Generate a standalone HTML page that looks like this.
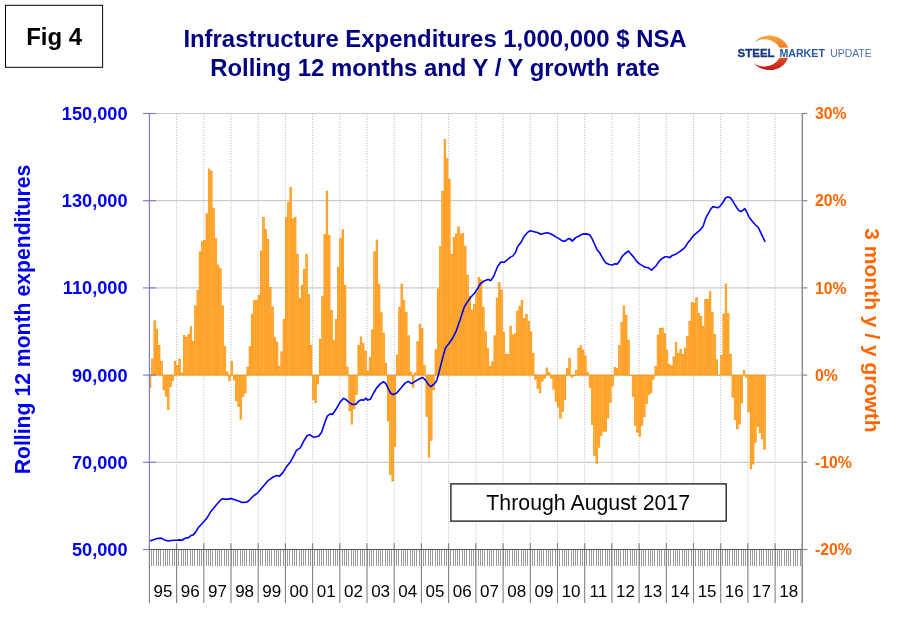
<!DOCTYPE html><html><head><meta charset="utf-8"><title>Fig 4 Infrastructure Expenditures</title>
<style>html,body{margin:0;padding:0;background:#fff}body{width:897px;height:622px;overflow:hidden;font-family:"Liberation Sans",sans-serif}svg{display:block}text{font-family:"Liberation Sans",sans-serif}</style></head><body>
<svg width="897" height="622" viewBox="0 0 897 622">
<defs><linearGradient id="lg" x1="0" y1="0" x2="0" y2="1"><stop offset="0" stop-color="#f9a63e"/><stop offset="0.45" stop-color="#f37021"/><stop offset="1" stop-color="#c4161c"/></linearGradient>
<linearGradient id="bg" x1="0" y1="0" x2="1" y2="0"><stop offset="0" stop-color="#f59000"/><stop offset="0.5" stop-color="#ffb84d"/><stop offset="1" stop-color="#f59000"/></linearGradient></defs>
<rect width="897" height="622" fill="#fff"/>
<line x1="149.4" y1="113.5" x2="802.3" y2="113.5" stroke="#cccccc" stroke-width="1.2"/>
<line x1="149.4" y1="200.7" x2="802.3" y2="200.7" stroke="#cccccc" stroke-width="1.2"/>
<line x1="149.4" y1="287.9" x2="802.3" y2="287.9" stroke="#cccccc" stroke-width="1.2"/>
<line x1="149.4" y1="375.1" x2="802.3" y2="375.1" stroke="#cccccc" stroke-width="1.2"/>
<line x1="149.4" y1="462.3" x2="802.3" y2="462.3" stroke="#cccccc" stroke-width="1.2"/>
<line x1="176.6" y1="113.5" x2="176.6" y2="549.5" stroke="#bababa" stroke-width="1" stroke-dasharray="1.1 1.58"/>
<line x1="203.8" y1="113.5" x2="203.8" y2="549.5" stroke="#bababa" stroke-width="1" stroke-dasharray="1.1 1.58"/>
<line x1="231.0" y1="113.5" x2="231.0" y2="549.5" stroke="#bababa" stroke-width="1" stroke-dasharray="1.1 1.58"/>
<line x1="258.2" y1="113.5" x2="258.2" y2="549.5" stroke="#bababa" stroke-width="1" stroke-dasharray="1.1 1.58"/>
<line x1="285.4" y1="113.5" x2="285.4" y2="549.5" stroke="#bababa" stroke-width="1" stroke-dasharray="1.1 1.58"/>
<line x1="312.6" y1="113.5" x2="312.6" y2="549.5" stroke="#bababa" stroke-width="1" stroke-dasharray="1.1 1.58"/>
<line x1="339.8" y1="113.5" x2="339.8" y2="549.5" stroke="#bababa" stroke-width="1" stroke-dasharray="1.1 1.58"/>
<line x1="367.0" y1="113.5" x2="367.0" y2="549.5" stroke="#bababa" stroke-width="1" stroke-dasharray="1.1 1.58"/>
<line x1="394.2" y1="113.5" x2="394.2" y2="549.5" stroke="#bababa" stroke-width="1" stroke-dasharray="1.1 1.58"/>
<line x1="421.4" y1="113.5" x2="421.4" y2="549.5" stroke="#bababa" stroke-width="1" stroke-dasharray="1.1 1.58"/>
<line x1="448.6" y1="113.5" x2="448.6" y2="549.5" stroke="#bababa" stroke-width="1" stroke-dasharray="1.1 1.58"/>
<line x1="475.9" y1="113.5" x2="475.9" y2="549.5" stroke="#bababa" stroke-width="1" stroke-dasharray="1.1 1.58"/>
<line x1="503.1" y1="113.5" x2="503.1" y2="549.5" stroke="#bababa" stroke-width="1" stroke-dasharray="1.1 1.58"/>
<line x1="530.3" y1="113.5" x2="530.3" y2="549.5" stroke="#bababa" stroke-width="1" stroke-dasharray="1.1 1.58"/>
<line x1="557.5" y1="113.5" x2="557.5" y2="549.5" stroke="#bababa" stroke-width="1" stroke-dasharray="1.1 1.58"/>
<line x1="584.7" y1="113.5" x2="584.7" y2="549.5" stroke="#bababa" stroke-width="1" stroke-dasharray="1.1 1.58"/>
<line x1="611.9" y1="113.5" x2="611.9" y2="549.5" stroke="#bababa" stroke-width="1" stroke-dasharray="1.1 1.58"/>
<line x1="639.1" y1="113.5" x2="639.1" y2="549.5" stroke="#bababa" stroke-width="1" stroke-dasharray="1.1 1.58"/>
<line x1="666.3" y1="113.5" x2="666.3" y2="549.5" stroke="#bababa" stroke-width="1" stroke-dasharray="1.1 1.58"/>
<line x1="693.5" y1="113.5" x2="693.5" y2="549.5" stroke="#bababa" stroke-width="1" stroke-dasharray="1.1 1.58"/>
<line x1="720.7" y1="113.5" x2="720.7" y2="549.5" stroke="#bababa" stroke-width="1" stroke-dasharray="1.1 1.58"/>
<line x1="747.9" y1="113.5" x2="747.9" y2="549.5" stroke="#bababa" stroke-width="1" stroke-dasharray="1.1 1.58"/>
<line x1="775.1" y1="113.5" x2="775.1" y2="549.5" stroke="#bababa" stroke-width="1" stroke-dasharray="1.1 1.58"/>
<g id="bars" fill="#ffb13d" stroke="#ff8c00" stroke-width="0.65">
<rect x="149.32" y="375.1" width="1.62" height="12.6"/>
<rect x="151.59" y="359.0" width="1.62" height="16.1"/>
<rect x="153.86" y="320.8" width="1.62" height="54.3"/>
<rect x="156.13" y="329.0" width="1.62" height="46.1"/>
<rect x="158.39" y="345.4" width="1.62" height="29.7"/>
<rect x="160.66" y="361.3" width="1.62" height="13.8"/>
<rect x="162.93" y="375.1" width="1.62" height="14.9"/>
<rect x="165.19" y="375.1" width="1.62" height="21.1"/>
<rect x="167.46" y="375.1" width="1.62" height="34.6"/>
<rect x="169.73" y="375.1" width="1.62" height="11.6"/>
<rect x="172.00" y="375.1" width="1.62" height="5.6"/>
<rect x="174.26" y="361.3" width="1.62" height="13.8"/>
<rect x="176.53" y="365.5" width="1.62" height="9.6"/>
<rect x="178.80" y="359.2" width="1.62" height="15.9"/>
<rect x="181.06" y="372.9" width="1.62" height="2.2"/>
<rect x="183.33" y="335.6" width="1.62" height="39.5"/>
<rect x="185.60" y="337.1" width="1.62" height="38.0"/>
<rect x="187.86" y="334.6" width="1.62" height="40.5"/>
<rect x="190.13" y="326.8" width="1.62" height="48.3"/>
<rect x="192.40" y="341.3" width="1.62" height="33.8"/>
<rect x="194.67" y="305.9" width="1.62" height="69.2"/>
<rect x="196.93" y="290.6" width="1.62" height="84.5"/>
<rect x="199.20" y="251.9" width="1.62" height="123.2"/>
<rect x="201.47" y="241.7" width="1.62" height="133.4"/>
<rect x="203.73" y="240.3" width="1.62" height="134.8"/>
<rect x="206.00" y="213.8" width="1.62" height="161.3"/>
<rect x="208.27" y="169.0" width="1.62" height="206.1"/>
<rect x="210.53" y="171.0" width="1.62" height="204.1"/>
<rect x="212.80" y="208.2" width="1.62" height="166.9"/>
<rect x="215.07" y="238.4" width="1.62" height="136.7"/>
<rect x="217.34" y="265.0" width="1.62" height="110.1"/>
<rect x="219.60" y="268.8" width="1.62" height="106.3"/>
<rect x="221.87" y="305.9" width="1.62" height="69.2"/>
<rect x="224.14" y="346.3" width="1.62" height="28.8"/>
<rect x="226.40" y="372.0" width="1.62" height="3.1"/>
<rect x="228.67" y="375.1" width="1.62" height="5.6"/>
<rect x="230.94" y="361.5" width="1.62" height="13.6"/>
<rect x="233.20" y="375.1" width="1.62" height="4.9"/>
<rect x="235.47" y="375.1" width="1.62" height="25.6"/>
<rect x="237.74" y="375.1" width="1.62" height="31.4"/>
<rect x="240.01" y="375.1" width="1.62" height="44.1"/>
<rect x="242.27" y="375.1" width="1.62" height="21.3"/>
<rect x="244.54" y="375.1" width="1.62" height="18.0"/>
<rect x="246.81" y="367.3" width="1.62" height="7.8"/>
<rect x="249.07" y="346.7" width="1.62" height="28.4"/>
<rect x="251.34" y="314.1" width="1.62" height="61.0"/>
<rect x="253.61" y="300.7" width="1.62" height="74.4"/>
<rect x="255.87" y="300.2" width="1.62" height="74.9"/>
<rect x="258.14" y="295.4" width="1.62" height="79.7"/>
<rect x="260.41" y="251.0" width="1.62" height="124.1"/>
<rect x="262.68" y="217.6" width="1.62" height="157.5"/>
<rect x="264.94" y="229.2" width="1.62" height="145.9"/>
<rect x="267.21" y="239.4" width="1.62" height="135.7"/>
<rect x="269.48" y="287.5" width="1.62" height="87.6"/>
<rect x="271.74" y="307.0" width="1.62" height="68.1"/>
<rect x="274.01" y="337.2" width="1.62" height="37.9"/>
<rect x="276.28" y="342.1" width="1.62" height="33.0"/>
<rect x="278.54" y="366.2" width="1.62" height="8.9"/>
<rect x="280.81" y="351.7" width="1.62" height="23.4"/>
<rect x="283.08" y="319.5" width="1.62" height="55.6"/>
<rect x="285.35" y="217.6" width="1.62" height="157.5"/>
<rect x="287.61" y="202.2" width="1.62" height="172.9"/>
<rect x="289.88" y="187.4" width="1.62" height="187.7"/>
<rect x="292.15" y="218.8" width="1.62" height="156.3"/>
<rect x="294.41" y="217.2" width="1.62" height="157.9"/>
<rect x="296.68" y="254.3" width="1.62" height="120.8"/>
<rect x="298.95" y="298.7" width="1.62" height="76.4"/>
<rect x="301.21" y="285.2" width="1.62" height="89.9"/>
<rect x="303.48" y="269.2" width="1.62" height="105.9"/>
<rect x="305.75" y="254.3" width="1.62" height="120.8"/>
<rect x="308.02" y="294.4" width="1.62" height="80.7"/>
<rect x="310.28" y="345.3" width="1.62" height="29.8"/>
<rect x="312.55" y="375.1" width="1.62" height="24.3"/>
<rect x="314.82" y="375.1" width="1.62" height="27.6"/>
<rect x="317.08" y="375.1" width="1.62" height="8.9"/>
<rect x="319.35" y="339.2" width="1.62" height="35.9"/>
<rect x="321.62" y="296.7" width="1.62" height="78.4"/>
<rect x="323.89" y="234.6" width="1.62" height="140.5"/>
<rect x="326.15" y="191.2" width="1.62" height="183.9"/>
<rect x="328.42" y="235.6" width="1.62" height="139.5"/>
<rect x="330.69" y="310.6" width="1.62" height="64.5"/>
<rect x="332.95" y="340.7" width="1.62" height="34.4"/>
<rect x="335.22" y="319.5" width="1.62" height="55.6"/>
<rect x="337.49" y="267.3" width="1.62" height="107.8"/>
<rect x="339.75" y="238.8" width="1.62" height="136.3"/>
<rect x="342.02" y="229.8" width="1.62" height="145.3"/>
<rect x="344.29" y="285.6" width="1.62" height="89.5"/>
<rect x="346.56" y="367.1" width="1.62" height="8.0"/>
<rect x="348.82" y="375.1" width="1.62" height="35.9"/>
<rect x="351.09" y="375.1" width="1.62" height="49.0"/>
<rect x="353.36" y="375.1" width="1.62" height="33.6"/>
<rect x="355.62" y="375.1" width="1.62" height="19.5"/>
<rect x="357.89" y="345.3" width="1.62" height="29.8"/>
<rect x="360.16" y="336.9" width="1.62" height="38.2"/>
<rect x="362.42" y="343.6" width="1.62" height="31.5"/>
<rect x="364.69" y="351.1" width="1.62" height="24.0"/>
<rect x="366.96" y="371.0" width="1.62" height="4.1"/>
<rect x="369.23" y="357.5" width="1.62" height="17.6"/>
<rect x="371.49" y="329.9" width="1.62" height="45.2"/>
<rect x="373.76" y="251.9" width="1.62" height="123.2"/>
<rect x="376.03" y="240.0" width="1.62" height="135.1"/>
<rect x="378.29" y="284.2" width="1.62" height="90.9"/>
<rect x="380.56" y="312.8" width="1.62" height="62.3"/>
<rect x="382.83" y="333.0" width="1.62" height="42.1"/>
<rect x="385.09" y="363.3" width="1.62" height="11.8"/>
<rect x="387.36" y="375.1" width="1.62" height="45.9"/>
<rect x="389.63" y="375.1" width="1.62" height="99.5"/>
<rect x="391.90" y="375.1" width="1.62" height="105.9"/>
<rect x="394.16" y="375.1" width="1.62" height="71.2"/>
<rect x="396.43" y="355.0" width="1.62" height="20.1"/>
<rect x="398.70" y="307.3" width="1.62" height="67.8"/>
<rect x="400.96" y="284.2" width="1.62" height="90.9"/>
<rect x="403.23" y="300.6" width="1.62" height="74.5"/>
<rect x="405.50" y="312.2" width="1.62" height="62.9"/>
<rect x="407.76" y="335.7" width="1.62" height="39.4"/>
<rect x="410.03" y="371.9" width="1.62" height="3.2"/>
<rect x="412.30" y="375.1" width="1.62" height="12.3"/>
<rect x="414.57" y="372.9" width="1.62" height="2.2"/>
<rect x="416.83" y="341.7" width="1.62" height="33.4"/>
<rect x="419.10" y="324.1" width="1.62" height="51.0"/>
<rect x="421.37" y="328.2" width="1.62" height="46.9"/>
<rect x="423.63" y="365.6" width="1.62" height="9.5"/>
<rect x="425.90" y="375.1" width="1.62" height="41.3"/>
<rect x="428.17" y="375.1" width="1.62" height="82.1"/>
<rect x="430.43" y="375.1" width="1.62" height="65.4"/>
<rect x="432.70" y="375.1" width="1.62" height="14.7"/>
<rect x="434.97" y="349.8" width="1.62" height="25.3"/>
<rect x="437.24" y="289.0" width="1.62" height="86.1"/>
<rect x="439.50" y="246.5" width="1.62" height="128.6"/>
<rect x="441.77" y="191.2" width="1.62" height="183.9"/>
<rect x="444.04" y="139.5" width="1.62" height="235.6"/>
<rect x="446.30" y="158.8" width="1.62" height="216.3"/>
<rect x="448.57" y="179.1" width="1.62" height="196.0"/>
<rect x="450.84" y="254.4" width="1.62" height="120.7"/>
<rect x="453.10" y="237.5" width="1.62" height="137.6"/>
<rect x="455.37" y="234.0" width="1.62" height="141.1"/>
<rect x="457.64" y="226.9" width="1.62" height="148.2"/>
<rect x="459.91" y="234.0" width="1.62" height="141.1"/>
<rect x="462.17" y="233.6" width="1.62" height="141.5"/>
<rect x="464.44" y="246.2" width="1.62" height="128.9"/>
<rect x="466.71" y="275.1" width="1.62" height="100.0"/>
<rect x="468.97" y="296.6" width="1.62" height="78.5"/>
<rect x="471.24" y="310.1" width="1.62" height="65.0"/>
<rect x="473.51" y="304.4" width="1.62" height="70.7"/>
<rect x="475.78" y="292.4" width="1.62" height="82.7"/>
<rect x="478.04" y="277.5" width="1.62" height="97.6"/>
<rect x="480.31" y="279.8" width="1.62" height="95.3"/>
<rect x="482.58" y="307.5" width="1.62" height="67.6"/>
<rect x="484.84" y="331.8" width="1.62" height="43.3"/>
<rect x="487.11" y="348.8" width="1.62" height="26.3"/>
<rect x="489.38" y="366.5" width="1.62" height="8.6"/>
<rect x="491.64" y="361.9" width="1.62" height="13.2"/>
<rect x="493.91" y="335.7" width="1.62" height="39.4"/>
<rect x="496.18" y="298.1" width="1.62" height="77.0"/>
<rect x="498.45" y="282.7" width="1.62" height="92.4"/>
<rect x="500.71" y="290.1" width="1.62" height="85.0"/>
<rect x="502.98" y="332.4" width="1.62" height="42.7"/>
<rect x="505.25" y="354.2" width="1.62" height="20.9"/>
<rect x="507.51" y="354.6" width="1.62" height="20.5"/>
<rect x="509.78" y="326.2" width="1.62" height="48.9"/>
<rect x="512.05" y="334.9" width="1.62" height="40.2"/>
<rect x="514.31" y="333.8" width="1.62" height="41.3"/>
<rect x="516.58" y="311.2" width="1.62" height="63.9"/>
<rect x="518.85" y="306.5" width="1.62" height="68.6"/>
<rect x="521.12" y="300.4" width="1.62" height="74.7"/>
<rect x="523.38" y="318.5" width="1.62" height="56.6"/>
<rect x="525.65" y="314.5" width="1.62" height="60.6"/>
<rect x="527.92" y="321.4" width="1.62" height="53.7"/>
<rect x="530.18" y="331.8" width="1.62" height="43.3"/>
<rect x="532.45" y="353.6" width="1.62" height="21.5"/>
<rect x="534.72" y="375.1" width="1.62" height="4.1"/>
<rect x="536.98" y="375.1" width="1.62" height="13.3"/>
<rect x="539.25" y="375.1" width="1.62" height="17.6"/>
<rect x="541.52" y="375.1" width="1.62" height="6.0"/>
<rect x="543.79" y="375.1" width="1.62" height="3.1"/>
<rect x="546.05" y="367.9" width="1.62" height="7.2"/>
<rect x="548.32" y="372.8" width="1.62" height="2.3"/>
<rect x="550.59" y="375.1" width="1.62" height="3.1"/>
<rect x="552.85" y="375.1" width="1.62" height="14.3"/>
<rect x="555.12" y="375.1" width="1.62" height="26.2"/>
<rect x="557.39" y="375.1" width="1.62" height="32.0"/>
<rect x="559.65" y="375.1" width="1.62" height="43.2"/>
<rect x="561.92" y="375.1" width="1.62" height="36.4"/>
<rect x="564.19" y="375.1" width="1.62" height="24.3"/>
<rect x="566.46" y="368.4" width="1.62" height="6.7"/>
<rect x="568.72" y="358.4" width="1.62" height="16.7"/>
<rect x="570.99" y="375.1" width="1.62" height="2.1"/>
<rect x="573.26" y="375.1" width="1.62" height="0.8"/>
<rect x="575.52" y="370.4" width="1.62" height="4.7"/>
<rect x="577.79" y="348.2" width="1.62" height="26.9"/>
<rect x="580.06" y="345.7" width="1.62" height="29.4"/>
<rect x="582.32" y="350.1" width="1.62" height="25.0"/>
<rect x="584.59" y="355.9" width="1.62" height="19.2"/>
<rect x="586.86" y="372.3" width="1.62" height="2.8"/>
<rect x="589.13" y="375.1" width="1.62" height="12.3"/>
<rect x="591.39" y="375.1" width="1.62" height="49.4"/>
<rect x="593.66" y="375.1" width="1.62" height="80.2"/>
<rect x="595.93" y="375.1" width="1.62" height="88.5"/>
<rect x="598.19" y="375.1" width="1.62" height="72.1"/>
<rect x="600.46" y="375.1" width="1.62" height="60.4"/>
<rect x="602.73" y="375.1" width="1.62" height="56.1"/>
<rect x="604.99" y="375.1" width="1.62" height="56.1"/>
<rect x="607.26" y="375.1" width="1.62" height="43.0"/>
<rect x="609.53" y="375.1" width="1.62" height="27.2"/>
<rect x="611.80" y="375.1" width="1.62" height="10.8"/>
<rect x="614.06" y="367.5" width="1.62" height="7.6"/>
<rect x="616.33" y="368.4" width="1.62" height="6.7"/>
<rect x="618.60" y="345.7" width="1.62" height="29.4"/>
<rect x="620.86" y="322.6" width="1.62" height="52.5"/>
<rect x="623.13" y="305.8" width="1.62" height="69.3"/>
<rect x="625.40" y="315.0" width="1.62" height="60.1"/>
<rect x="627.66" y="340.1" width="1.62" height="35.0"/>
<rect x="629.93" y="375.1" width="1.62" height="0.2"/>
<rect x="632.20" y="375.1" width="1.62" height="21.4"/>
<rect x="634.47" y="375.1" width="1.62" height="50.3"/>
<rect x="636.73" y="375.1" width="1.62" height="57.1"/>
<rect x="639.00" y="375.1" width="1.62" height="61.3"/>
<rect x="641.27" y="375.1" width="1.62" height="50.3"/>
<rect x="643.53" y="375.1" width="1.62" height="41.6"/>
<rect x="645.80" y="375.1" width="1.62" height="28.2"/>
<rect x="648.07" y="375.1" width="1.62" height="19.5"/>
<rect x="650.34" y="375.1" width="1.62" height="17.6"/>
<rect x="652.60" y="375.1" width="1.62" height="4.1"/>
<rect x="654.87" y="366.5" width="1.62" height="8.6"/>
<rect x="657.14" y="335.1" width="1.62" height="40.0"/>
<rect x="659.40" y="328.5" width="1.62" height="46.6"/>
<rect x="661.67" y="328.0" width="1.62" height="47.1"/>
<rect x="663.94" y="333.7" width="1.62" height="41.4"/>
<rect x="666.20" y="350.1" width="1.62" height="25.0"/>
<rect x="668.47" y="364.6" width="1.62" height="10.5"/>
<rect x="670.74" y="365.9" width="1.62" height="9.2"/>
<rect x="673.01" y="356.9" width="1.62" height="18.2"/>
<rect x="675.27" y="342.4" width="1.62" height="32.7"/>
<rect x="677.54" y="353.4" width="1.62" height="21.7"/>
<rect x="679.81" y="349.5" width="1.62" height="25.6"/>
<rect x="682.07" y="354.4" width="1.62" height="20.7"/>
<rect x="684.34" y="348.2" width="1.62" height="26.9"/>
<rect x="686.61" y="336.6" width="1.62" height="38.5"/>
<rect x="688.87" y="321.2" width="1.62" height="53.9"/>
<rect x="691.14" y="302.5" width="1.62" height="72.6"/>
<rect x="693.41" y="303.3" width="1.62" height="71.8"/>
<rect x="695.68" y="297.7" width="1.62" height="77.4"/>
<rect x="697.94" y="313.5" width="1.62" height="61.6"/>
<rect x="700.21" y="316.4" width="1.62" height="58.7"/>
<rect x="702.48" y="326.6" width="1.62" height="48.5"/>
<rect x="704.74" y="299.4" width="1.62" height="75.7"/>
<rect x="707.01" y="299.6" width="1.62" height="75.5"/>
<rect x="709.28" y="291.7" width="1.62" height="83.4"/>
<rect x="711.54" y="312.5" width="1.62" height="62.6"/>
<rect x="713.81" y="334.3" width="1.62" height="40.8"/>
<rect x="716.08" y="359.8" width="1.62" height="15.3"/>
<rect x="718.35" y="375.1" width="1.62" height="0.2"/>
<rect x="720.61" y="355.3" width="1.62" height="19.8"/>
<rect x="722.88" y="313.9" width="1.62" height="61.2"/>
<rect x="725.15" y="284.0" width="1.62" height="91.1"/>
<rect x="727.41" y="313.5" width="1.62" height="61.6"/>
<rect x="729.68" y="354.4" width="1.62" height="20.7"/>
<rect x="731.95" y="375.1" width="1.62" height="22.1"/>
<rect x="734.21" y="375.1" width="1.62" height="44.6"/>
<rect x="736.48" y="375.1" width="1.62" height="53.8"/>
<rect x="738.75" y="375.1" width="1.62" height="49.0"/>
<rect x="741.02" y="375.1" width="1.62" height="27.9"/>
<rect x="743.28" y="370.6" width="1.62" height="4.5"/>
<rect x="745.55" y="375.1" width="1.62" height="2.2"/>
<rect x="747.82" y="375.1" width="1.62" height="36.9"/>
<rect x="750.08" y="375.1" width="1.62" height="93.8"/>
<rect x="752.35" y="375.1" width="1.62" height="89.0"/>
<rect x="754.62" y="375.1" width="1.62" height="67.4"/>
<rect x="756.88" y="375.1" width="1.62" height="51.3"/>
<rect x="759.15" y="375.1" width="1.62" height="57.7"/>
<rect x="761.42" y="375.1" width="1.62" height="63.9"/>
<rect x="763.69" y="375.1" width="1.62" height="74.1"/>
</g>
<path d="M150.4 540.8 L153.7 539.7 L157.0 538.5 L161.4 538.1 L164.3 539.9 L168.5 541.0 L173.0 540.3 L176.8 540.3 L179.7 539.9 L182.0 540.3 L184.5 538.5 L188.4 537.6 L191.3 535.3 L193.2 534.9 L195.5 532.4 L198.6 527.2 L202.8 522.7 L206.7 518.3 L210.5 512.1 L215.4 505.9 L219.2 501.5 L222.1 498.8 L226.0 499.4 L231.2 498.6 L234.6 499.8 L238.5 501.1 L242.0 502.5 L246.8 502.1 L249.1 500.5 L253.0 496.3 L257.8 492.8 L262.6 487.1 L268.4 480.3 L273.2 477.0 L276.7 475.5 L279.6 476.1 L282.8 472.6 L286.7 466.4 L290.0 462.6 L292.5 458.1 L295.0 453.3 L296.4 450.4 L300.3 447.9 L304.2 440.2 L307.1 435.8 L309.6 434.6 L313.8 437.3 L318.6 436.3 L321.5 432.5 L324.4 423.8 L327.3 416.1 L330.2 413.8 L332.5 414.5 L336.0 409.3 L339.8 402.6 L343.3 398.4 L345.6 399.3 L349.5 402.6 L352.4 404.5 L356.2 404.1 L359.1 400.7 L361.6 399.7 L363.5 400.3 L365.9 398.2 L367.8 400.1 L370.3 399.3 L373.6 393.0 L376.5 388.1 L380.3 383.9 L383.2 381.8 L385.7 383.3 L388.0 388.1 L390.9 393.5 L393.5 394.5 L396.7 393.0 L401.6 387.2 L405.4 382.9 L408.3 381.4 L411.6 383.7 L415.1 381.4 L418.9 379.1 L422.8 377.5 L425.7 380.4 L428.6 384.9 L430.9 386.6 L433.4 384.7 L436.3 381.4 L438.2 375.6 L441.1 364.0 L443.6 354.4 L445.5 347.7 L448.8 343.8 L452.7 338.0 L456.5 330.3 L460.4 318.7 L464.2 307.2 L467.1 302.4 L471.0 297.0 L474.8 292.7 L477.7 288.5 L480.2 283.9 L484.1 281.0 L488.0 279.4 L490.8 280.6 L493.7 276.2 L497.6 266.5 L500.9 262.1 L504.0 262.3 L507.2 259.8 L510.5 257.1 L513.0 255.9 L515.5 252.4 L517.8 246.3 L520.7 242.8 L524.0 236.6 L527.5 232.4 L530.4 230.8 L534.2 231.8 L538.1 232.8 L540.6 234.3 L543.9 233.4 L547.7 232.8 L551.6 234.3 L555.4 236.6 L559.3 238.9 L562.2 240.9 L565.1 241.1 L568.0 238.9 L569.9 238.6 L572.2 241.1 L575.7 237.6 L579.5 235.7 L582.4 234.1 L586.3 233.9 L589.6 234.7 L592.1 238.6 L594.6 244.3 L596.9 249.5 L599.8 253.0 L602.9 258.7 L605.8 262.9 L609.3 264.5 L612.5 265.0 L615.0 263.7 L617.0 264.1 L619.3 261.6 L622.2 256.4 L625.1 253.5 L628.5 251.0 L630.8 253.9 L633.7 257.1 L636.6 261.4 L639.5 263.9 L642.4 265.6 L645.3 267.2 L648.2 267.6 L651.5 270.1 L655.9 266.0 L658.8 261.6 L661.7 258.7 L665.2 256.8 L667.5 256.8 L669.8 257.7 L672.3 255.4 L676.2 253.9 L680.0 251.4 L683.3 249.0 L685.8 246.2 L687.7 242.9 L690.6 239.4 L693.5 235.5 L696.4 233.2 L699.9 230.2 L703.1 226.3 L705.8 217.9 L708.4 213.4 L710.9 208.9 L712.9 206.6 L715.4 207.2 L717.7 207.8 L719.9 206.3 L722.9 202.5 L725.7 197.7 L727.6 197.0 L730.2 197.6 L732.1 199.9 L734.7 204.4 L737.3 208.5 L739.2 210.8 L741.1 211.5 L743.1 210.2 L744.6 208.5 L746.5 211.5 L748.8 216.6 L751.4 220.2 L754.6 224.0 L758.5 227.8 L761.7 234.6 L764.9 241.3" fill="none" stroke="#0000f5" stroke-width="1.6" stroke-linejoin="round" stroke-linecap="round"/>
<g stroke="#9c9c9c" stroke-width="1" shape-rendering="crispEdges">
<line x1="149.40" y1="549.5" x2="149.40" y2="565.5"/>
<line x1="151.67" y1="549.5" x2="151.67" y2="565.5"/>
<line x1="153.93" y1="549.5" x2="153.93" y2="565.5"/>
<line x1="156.20" y1="549.5" x2="156.20" y2="565.5"/>
<line x1="158.47" y1="549.5" x2="158.47" y2="565.5"/>
<line x1="160.74" y1="549.5" x2="160.74" y2="565.5"/>
<line x1="163.00" y1="549.5" x2="163.00" y2="565.5"/>
<line x1="165.27" y1="549.5" x2="165.27" y2="565.5"/>
<line x1="167.54" y1="549.5" x2="167.54" y2="565.5"/>
<line x1="169.80" y1="549.5" x2="169.80" y2="565.5"/>
<line x1="172.07" y1="549.5" x2="172.07" y2="565.5"/>
<line x1="174.34" y1="549.5" x2="174.34" y2="565.5"/>
<line x1="176.60" y1="549.5" x2="176.60" y2="565.5"/>
<line x1="178.87" y1="549.5" x2="178.87" y2="565.5"/>
<line x1="181.14" y1="549.5" x2="181.14" y2="565.5"/>
<line x1="183.41" y1="549.5" x2="183.41" y2="565.5"/>
<line x1="185.67" y1="549.5" x2="185.67" y2="565.5"/>
<line x1="187.94" y1="549.5" x2="187.94" y2="565.5"/>
<line x1="190.21" y1="549.5" x2="190.21" y2="565.5"/>
<line x1="192.47" y1="549.5" x2="192.47" y2="565.5"/>
<line x1="194.74" y1="549.5" x2="194.74" y2="565.5"/>
<line x1="197.01" y1="549.5" x2="197.01" y2="565.5"/>
<line x1="199.27" y1="549.5" x2="199.27" y2="565.5"/>
<line x1="201.54" y1="549.5" x2="201.54" y2="565.5"/>
<line x1="203.81" y1="549.5" x2="203.81" y2="565.5"/>
<line x1="206.08" y1="549.5" x2="206.08" y2="565.5"/>
<line x1="208.34" y1="549.5" x2="208.34" y2="565.5"/>
<line x1="210.61" y1="549.5" x2="210.61" y2="565.5"/>
<line x1="212.88" y1="549.5" x2="212.88" y2="565.5"/>
<line x1="215.14" y1="549.5" x2="215.14" y2="565.5"/>
<line x1="217.41" y1="549.5" x2="217.41" y2="565.5"/>
<line x1="219.68" y1="549.5" x2="219.68" y2="565.5"/>
<line x1="221.94" y1="549.5" x2="221.94" y2="565.5"/>
<line x1="224.21" y1="549.5" x2="224.21" y2="565.5"/>
<line x1="226.48" y1="549.5" x2="226.48" y2="565.5"/>
<line x1="228.75" y1="549.5" x2="228.75" y2="565.5"/>
<line x1="231.01" y1="549.5" x2="231.01" y2="565.5"/>
<line x1="233.28" y1="549.5" x2="233.28" y2="565.5"/>
<line x1="235.55" y1="549.5" x2="235.55" y2="565.5"/>
<line x1="237.81" y1="549.5" x2="237.81" y2="565.5"/>
<line x1="240.08" y1="549.5" x2="240.08" y2="565.5"/>
<line x1="242.35" y1="549.5" x2="242.35" y2="565.5"/>
<line x1="244.61" y1="549.5" x2="244.61" y2="565.5"/>
<line x1="246.88" y1="549.5" x2="246.88" y2="565.5"/>
<line x1="249.15" y1="549.5" x2="249.15" y2="565.5"/>
<line x1="251.42" y1="549.5" x2="251.42" y2="565.5"/>
<line x1="253.68" y1="549.5" x2="253.68" y2="565.5"/>
<line x1="255.95" y1="549.5" x2="255.95" y2="565.5"/>
<line x1="258.22" y1="549.5" x2="258.22" y2="565.5"/>
<line x1="260.48" y1="549.5" x2="260.48" y2="565.5"/>
<line x1="262.75" y1="549.5" x2="262.75" y2="565.5"/>
<line x1="265.02" y1="549.5" x2="265.02" y2="565.5"/>
<line x1="267.28" y1="549.5" x2="267.28" y2="565.5"/>
<line x1="269.55" y1="549.5" x2="269.55" y2="565.5"/>
<line x1="271.82" y1="549.5" x2="271.82" y2="565.5"/>
<line x1="274.09" y1="549.5" x2="274.09" y2="565.5"/>
<line x1="276.35" y1="549.5" x2="276.35" y2="565.5"/>
<line x1="278.62" y1="549.5" x2="278.62" y2="565.5"/>
<line x1="280.89" y1="549.5" x2="280.89" y2="565.5"/>
<line x1="283.15" y1="549.5" x2="283.15" y2="565.5"/>
<line x1="285.42" y1="549.5" x2="285.42" y2="565.5"/>
<line x1="287.69" y1="549.5" x2="287.69" y2="565.5"/>
<line x1="289.95" y1="549.5" x2="289.95" y2="565.5"/>
<line x1="292.22" y1="549.5" x2="292.22" y2="565.5"/>
<line x1="294.49" y1="549.5" x2="294.49" y2="565.5"/>
<line x1="296.76" y1="549.5" x2="296.76" y2="565.5"/>
<line x1="299.02" y1="549.5" x2="299.02" y2="565.5"/>
<line x1="301.29" y1="549.5" x2="301.29" y2="565.5"/>
<line x1="303.56" y1="549.5" x2="303.56" y2="565.5"/>
<line x1="305.82" y1="549.5" x2="305.82" y2="565.5"/>
<line x1="308.09" y1="549.5" x2="308.09" y2="565.5"/>
<line x1="310.36" y1="549.5" x2="310.36" y2="565.5"/>
<line x1="312.62" y1="549.5" x2="312.62" y2="565.5"/>
<line x1="314.89" y1="549.5" x2="314.89" y2="565.5"/>
<line x1="317.16" y1="549.5" x2="317.16" y2="565.5"/>
<line x1="319.43" y1="549.5" x2="319.43" y2="565.5"/>
<line x1="321.69" y1="549.5" x2="321.69" y2="565.5"/>
<line x1="323.96" y1="549.5" x2="323.96" y2="565.5"/>
<line x1="326.23" y1="549.5" x2="326.23" y2="565.5"/>
<line x1="328.49" y1="549.5" x2="328.49" y2="565.5"/>
<line x1="330.76" y1="549.5" x2="330.76" y2="565.5"/>
<line x1="333.03" y1="549.5" x2="333.03" y2="565.5"/>
<line x1="335.30" y1="549.5" x2="335.30" y2="565.5"/>
<line x1="337.56" y1="549.5" x2="337.56" y2="565.5"/>
<line x1="339.83" y1="549.5" x2="339.83" y2="565.5"/>
<line x1="342.10" y1="549.5" x2="342.10" y2="565.5"/>
<line x1="344.36" y1="549.5" x2="344.36" y2="565.5"/>
<line x1="346.63" y1="549.5" x2="346.63" y2="565.5"/>
<line x1="348.90" y1="549.5" x2="348.90" y2="565.5"/>
<line x1="351.16" y1="549.5" x2="351.16" y2="565.5"/>
<line x1="353.43" y1="549.5" x2="353.43" y2="565.5"/>
<line x1="355.70" y1="549.5" x2="355.70" y2="565.5"/>
<line x1="357.97" y1="549.5" x2="357.97" y2="565.5"/>
<line x1="360.23" y1="549.5" x2="360.23" y2="565.5"/>
<line x1="362.50" y1="549.5" x2="362.50" y2="565.5"/>
<line x1="364.77" y1="549.5" x2="364.77" y2="565.5"/>
<line x1="367.03" y1="549.5" x2="367.03" y2="565.5"/>
<line x1="369.30" y1="549.5" x2="369.30" y2="565.5"/>
<line x1="371.57" y1="549.5" x2="371.57" y2="565.5"/>
<line x1="373.83" y1="549.5" x2="373.83" y2="565.5"/>
<line x1="376.10" y1="549.5" x2="376.10" y2="565.5"/>
<line x1="378.37" y1="549.5" x2="378.37" y2="565.5"/>
<line x1="380.64" y1="549.5" x2="380.64" y2="565.5"/>
<line x1="382.90" y1="549.5" x2="382.90" y2="565.5"/>
<line x1="385.17" y1="549.5" x2="385.17" y2="565.5"/>
<line x1="387.44" y1="549.5" x2="387.44" y2="565.5"/>
<line x1="389.70" y1="549.5" x2="389.70" y2="565.5"/>
<line x1="391.97" y1="549.5" x2="391.97" y2="565.5"/>
<line x1="394.24" y1="549.5" x2="394.24" y2="565.5"/>
<line x1="396.50" y1="549.5" x2="396.50" y2="565.5"/>
<line x1="398.77" y1="549.5" x2="398.77" y2="565.5"/>
<line x1="401.04" y1="549.5" x2="401.04" y2="565.5"/>
<line x1="403.31" y1="549.5" x2="403.31" y2="565.5"/>
<line x1="405.57" y1="549.5" x2="405.57" y2="565.5"/>
<line x1="407.84" y1="549.5" x2="407.84" y2="565.5"/>
<line x1="410.11" y1="549.5" x2="410.11" y2="565.5"/>
<line x1="412.37" y1="549.5" x2="412.37" y2="565.5"/>
<line x1="414.64" y1="549.5" x2="414.64" y2="565.5"/>
<line x1="416.91" y1="549.5" x2="416.91" y2="565.5"/>
<line x1="419.17" y1="549.5" x2="419.17" y2="565.5"/>
<line x1="421.44" y1="549.5" x2="421.44" y2="565.5"/>
<line x1="423.71" y1="549.5" x2="423.71" y2="565.5"/>
<line x1="425.98" y1="549.5" x2="425.98" y2="565.5"/>
<line x1="428.24" y1="549.5" x2="428.24" y2="565.5"/>
<line x1="430.51" y1="549.5" x2="430.51" y2="565.5"/>
<line x1="432.78" y1="549.5" x2="432.78" y2="565.5"/>
<line x1="435.04" y1="549.5" x2="435.04" y2="565.5"/>
<line x1="437.31" y1="549.5" x2="437.31" y2="565.5"/>
<line x1="439.58" y1="549.5" x2="439.58" y2="565.5"/>
<line x1="441.84" y1="549.5" x2="441.84" y2="565.5"/>
<line x1="444.11" y1="549.5" x2="444.11" y2="565.5"/>
<line x1="446.38" y1="549.5" x2="446.38" y2="565.5"/>
<line x1="448.65" y1="549.5" x2="448.65" y2="565.5"/>
<line x1="450.91" y1="549.5" x2="450.91" y2="565.5"/>
<line x1="453.18" y1="549.5" x2="453.18" y2="565.5"/>
<line x1="455.45" y1="549.5" x2="455.45" y2="565.5"/>
<line x1="457.71" y1="549.5" x2="457.71" y2="565.5"/>
<line x1="459.98" y1="549.5" x2="459.98" y2="565.5"/>
<line x1="462.25" y1="549.5" x2="462.25" y2="565.5"/>
<line x1="464.51" y1="549.5" x2="464.51" y2="565.5"/>
<line x1="466.78" y1="549.5" x2="466.78" y2="565.5"/>
<line x1="469.05" y1="549.5" x2="469.05" y2="565.5"/>
<line x1="471.32" y1="549.5" x2="471.32" y2="565.5"/>
<line x1="473.58" y1="549.5" x2="473.58" y2="565.5"/>
<line x1="475.85" y1="549.5" x2="475.85" y2="565.5"/>
<line x1="478.12" y1="549.5" x2="478.12" y2="565.5"/>
<line x1="480.38" y1="549.5" x2="480.38" y2="565.5"/>
<line x1="482.65" y1="549.5" x2="482.65" y2="565.5"/>
<line x1="484.92" y1="549.5" x2="484.92" y2="565.5"/>
<line x1="487.19" y1="549.5" x2="487.19" y2="565.5"/>
<line x1="489.45" y1="549.5" x2="489.45" y2="565.5"/>
<line x1="491.72" y1="549.5" x2="491.72" y2="565.5"/>
<line x1="493.99" y1="549.5" x2="493.99" y2="565.5"/>
<line x1="496.25" y1="549.5" x2="496.25" y2="565.5"/>
<line x1="498.52" y1="549.5" x2="498.52" y2="565.5"/>
<line x1="500.79" y1="549.5" x2="500.79" y2="565.5"/>
<line x1="503.05" y1="549.5" x2="503.05" y2="565.5"/>
<line x1="505.32" y1="549.5" x2="505.32" y2="565.5"/>
<line x1="507.59" y1="549.5" x2="507.59" y2="565.5"/>
<line x1="509.86" y1="549.5" x2="509.86" y2="565.5"/>
<line x1="512.12" y1="549.5" x2="512.12" y2="565.5"/>
<line x1="514.39" y1="549.5" x2="514.39" y2="565.5"/>
<line x1="516.66" y1="549.5" x2="516.66" y2="565.5"/>
<line x1="518.92" y1="549.5" x2="518.92" y2="565.5"/>
<line x1="521.19" y1="549.5" x2="521.19" y2="565.5"/>
<line x1="523.46" y1="549.5" x2="523.46" y2="565.5"/>
<line x1="525.72" y1="549.5" x2="525.72" y2="565.5"/>
<line x1="527.99" y1="549.5" x2="527.99" y2="565.5"/>
<line x1="530.26" y1="549.5" x2="530.26" y2="565.5"/>
<line x1="532.53" y1="549.5" x2="532.53" y2="565.5"/>
<line x1="534.79" y1="549.5" x2="534.79" y2="565.5"/>
<line x1="537.06" y1="549.5" x2="537.06" y2="565.5"/>
<line x1="539.33" y1="549.5" x2="539.33" y2="565.5"/>
<line x1="541.59" y1="549.5" x2="541.59" y2="565.5"/>
<line x1="543.86" y1="549.5" x2="543.86" y2="565.5"/>
<line x1="546.13" y1="549.5" x2="546.13" y2="565.5"/>
<line x1="548.39" y1="549.5" x2="548.39" y2="565.5"/>
<line x1="550.66" y1="549.5" x2="550.66" y2="565.5"/>
<line x1="552.93" y1="549.5" x2="552.93" y2="565.5"/>
<line x1="555.20" y1="549.5" x2="555.20" y2="565.5"/>
<line x1="557.46" y1="549.5" x2="557.46" y2="565.5"/>
<line x1="559.73" y1="549.5" x2="559.73" y2="565.5"/>
<line x1="562.00" y1="549.5" x2="562.00" y2="565.5"/>
<line x1="564.26" y1="549.5" x2="564.26" y2="565.5"/>
<line x1="566.53" y1="549.5" x2="566.53" y2="565.5"/>
<line x1="568.80" y1="549.5" x2="568.80" y2="565.5"/>
<line x1="571.06" y1="549.5" x2="571.06" y2="565.5"/>
<line x1="573.33" y1="549.5" x2="573.33" y2="565.5"/>
<line x1="575.60" y1="549.5" x2="575.60" y2="565.5"/>
<line x1="577.87" y1="549.5" x2="577.87" y2="565.5"/>
<line x1="580.13" y1="549.5" x2="580.13" y2="565.5"/>
<line x1="582.40" y1="549.5" x2="582.40" y2="565.5"/>
<line x1="584.67" y1="549.5" x2="584.67" y2="565.5"/>
<line x1="586.93" y1="549.5" x2="586.93" y2="565.5"/>
<line x1="589.20" y1="549.5" x2="589.20" y2="565.5"/>
<line x1="591.47" y1="549.5" x2="591.47" y2="565.5"/>
<line x1="593.73" y1="549.5" x2="593.73" y2="565.5"/>
<line x1="596.00" y1="549.5" x2="596.00" y2="565.5"/>
<line x1="598.27" y1="549.5" x2="598.27" y2="565.5"/>
<line x1="600.54" y1="549.5" x2="600.54" y2="565.5"/>
<line x1="602.80" y1="549.5" x2="602.80" y2="565.5"/>
<line x1="605.07" y1="549.5" x2="605.07" y2="565.5"/>
<line x1="607.34" y1="549.5" x2="607.34" y2="565.5"/>
<line x1="609.60" y1="549.5" x2="609.60" y2="565.5"/>
<line x1="611.87" y1="549.5" x2="611.87" y2="565.5"/>
<line x1="614.14" y1="549.5" x2="614.14" y2="565.5"/>
<line x1="616.40" y1="549.5" x2="616.40" y2="565.5"/>
<line x1="618.67" y1="549.5" x2="618.67" y2="565.5"/>
<line x1="620.94" y1="549.5" x2="620.94" y2="565.5"/>
<line x1="623.21" y1="549.5" x2="623.21" y2="565.5"/>
<line x1="625.47" y1="549.5" x2="625.47" y2="565.5"/>
<line x1="627.74" y1="549.5" x2="627.74" y2="565.5"/>
<line x1="630.01" y1="549.5" x2="630.01" y2="565.5"/>
<line x1="632.27" y1="549.5" x2="632.27" y2="565.5"/>
<line x1="634.54" y1="549.5" x2="634.54" y2="565.5"/>
<line x1="636.81" y1="549.5" x2="636.81" y2="565.5"/>
<line x1="639.07" y1="549.5" x2="639.07" y2="565.5"/>
<line x1="641.34" y1="549.5" x2="641.34" y2="565.5"/>
<line x1="643.61" y1="549.5" x2="643.61" y2="565.5"/>
<line x1="645.88" y1="549.5" x2="645.88" y2="565.5"/>
<line x1="648.14" y1="549.5" x2="648.14" y2="565.5"/>
<line x1="650.41" y1="549.5" x2="650.41" y2="565.5"/>
<line x1="652.68" y1="549.5" x2="652.68" y2="565.5"/>
<line x1="654.94" y1="549.5" x2="654.94" y2="565.5"/>
<line x1="657.21" y1="549.5" x2="657.21" y2="565.5"/>
<line x1="659.48" y1="549.5" x2="659.48" y2="565.5"/>
<line x1="661.75" y1="549.5" x2="661.75" y2="565.5"/>
<line x1="664.01" y1="549.5" x2="664.01" y2="565.5"/>
<line x1="666.28" y1="549.5" x2="666.28" y2="565.5"/>
<line x1="668.55" y1="549.5" x2="668.55" y2="565.5"/>
<line x1="670.81" y1="549.5" x2="670.81" y2="565.5"/>
<line x1="673.08" y1="549.5" x2="673.08" y2="565.5"/>
<line x1="675.35" y1="549.5" x2="675.35" y2="565.5"/>
<line x1="677.61" y1="549.5" x2="677.61" y2="565.5"/>
<line x1="679.88" y1="549.5" x2="679.88" y2="565.5"/>
<line x1="682.15" y1="549.5" x2="682.15" y2="565.5"/>
<line x1="684.42" y1="549.5" x2="684.42" y2="565.5"/>
<line x1="686.68" y1="549.5" x2="686.68" y2="565.5"/>
<line x1="688.95" y1="549.5" x2="688.95" y2="565.5"/>
<line x1="691.22" y1="549.5" x2="691.22" y2="565.5"/>
<line x1="693.48" y1="549.5" x2="693.48" y2="565.5"/>
<line x1="695.75" y1="549.5" x2="695.75" y2="565.5"/>
<line x1="698.02" y1="549.5" x2="698.02" y2="565.5"/>
<line x1="700.28" y1="549.5" x2="700.28" y2="565.5"/>
<line x1="702.55" y1="549.5" x2="702.55" y2="565.5"/>
<line x1="704.82" y1="549.5" x2="704.82" y2="565.5"/>
<line x1="707.09" y1="549.5" x2="707.09" y2="565.5"/>
<line x1="709.35" y1="549.5" x2="709.35" y2="565.5"/>
<line x1="711.62" y1="549.5" x2="711.62" y2="565.5"/>
<line x1="713.89" y1="549.5" x2="713.89" y2="565.5"/>
<line x1="716.15" y1="549.5" x2="716.15" y2="565.5"/>
<line x1="718.42" y1="549.5" x2="718.42" y2="565.5"/>
<line x1="720.69" y1="549.5" x2="720.69" y2="565.5"/>
<line x1="722.95" y1="549.5" x2="722.95" y2="565.5"/>
<line x1="725.22" y1="549.5" x2="725.22" y2="565.5"/>
<line x1="727.49" y1="549.5" x2="727.49" y2="565.5"/>
<line x1="729.76" y1="549.5" x2="729.76" y2="565.5"/>
<line x1="732.02" y1="549.5" x2="732.02" y2="565.5"/>
<line x1="734.29" y1="549.5" x2="734.29" y2="565.5"/>
<line x1="736.56" y1="549.5" x2="736.56" y2="565.5"/>
<line x1="738.82" y1="549.5" x2="738.82" y2="565.5"/>
<line x1="741.09" y1="549.5" x2="741.09" y2="565.5"/>
<line x1="743.36" y1="549.5" x2="743.36" y2="565.5"/>
<line x1="745.62" y1="549.5" x2="745.62" y2="565.5"/>
<line x1="747.89" y1="549.5" x2="747.89" y2="565.5"/>
<line x1="750.16" y1="549.5" x2="750.16" y2="565.5"/>
<line x1="752.43" y1="549.5" x2="752.43" y2="565.5"/>
<line x1="754.69" y1="549.5" x2="754.69" y2="565.5"/>
<line x1="756.96" y1="549.5" x2="756.96" y2="565.5"/>
<line x1="759.23" y1="549.5" x2="759.23" y2="565.5"/>
<line x1="761.49" y1="549.5" x2="761.49" y2="565.5"/>
<line x1="763.76" y1="549.5" x2="763.76" y2="565.5"/>
<line x1="766.03" y1="549.5" x2="766.03" y2="565.5"/>
<line x1="768.29" y1="549.5" x2="768.29" y2="565.5"/>
<line x1="770.56" y1="549.5" x2="770.56" y2="565.5"/>
<line x1="772.83" y1="549.5" x2="772.83" y2="565.5"/>
<line x1="775.10" y1="549.5" x2="775.10" y2="565.5"/>
<line x1="777.36" y1="549.5" x2="777.36" y2="565.5"/>
<line x1="779.63" y1="549.5" x2="779.63" y2="565.5"/>
<line x1="781.90" y1="549.5" x2="781.90" y2="565.5"/>
<line x1="784.16" y1="549.5" x2="784.16" y2="565.5"/>
<line x1="786.43" y1="549.5" x2="786.43" y2="565.5"/>
<line x1="788.70" y1="549.5" x2="788.70" y2="565.5"/>
<line x1="790.96" y1="549.5" x2="790.96" y2="565.5"/>
<line x1="793.23" y1="549.5" x2="793.23" y2="565.5"/>
<line x1="795.50" y1="549.5" x2="795.50" y2="565.5"/>
<line x1="797.77" y1="549.5" x2="797.77" y2="565.5"/>
<line x1="800.03" y1="549.5" x2="800.03" y2="565.5"/>
<line x1="802.30" y1="549.5" x2="802.30" y2="565.5"/>
</g>
<g stroke="#808080" stroke-width="1.1">
<line x1="149.4" y1="543.2" x2="149.4" y2="603"/>
<line x1="176.6" y1="543.2" x2="176.6" y2="603"/>
<line x1="203.8" y1="543.2" x2="203.8" y2="603"/>
<line x1="231.0" y1="543.2" x2="231.0" y2="603"/>
<line x1="258.2" y1="543.2" x2="258.2" y2="603"/>
<line x1="285.4" y1="543.2" x2="285.4" y2="603"/>
<line x1="312.6" y1="543.2" x2="312.6" y2="603"/>
<line x1="339.8" y1="543.2" x2="339.8" y2="603"/>
<line x1="367.0" y1="543.2" x2="367.0" y2="603"/>
<line x1="394.2" y1="543.2" x2="394.2" y2="603"/>
<line x1="421.4" y1="543.2" x2="421.4" y2="603"/>
<line x1="448.6" y1="543.2" x2="448.6" y2="603"/>
<line x1="475.9" y1="543.2" x2="475.9" y2="603"/>
<line x1="503.1" y1="543.2" x2="503.1" y2="603"/>
<line x1="530.3" y1="543.2" x2="530.3" y2="603"/>
<line x1="557.5" y1="543.2" x2="557.5" y2="603"/>
<line x1="584.7" y1="543.2" x2="584.7" y2="603"/>
<line x1="611.9" y1="543.2" x2="611.9" y2="603"/>
<line x1="639.1" y1="543.2" x2="639.1" y2="603"/>
<line x1="666.3" y1="543.2" x2="666.3" y2="603"/>
<line x1="693.5" y1="543.2" x2="693.5" y2="603"/>
<line x1="720.7" y1="543.2" x2="720.7" y2="603"/>
<line x1="747.9" y1="543.2" x2="747.9" y2="603"/>
<line x1="775.1" y1="543.2" x2="775.1" y2="603"/>
<line x1="802.3" y1="543.2" x2="802.3" y2="603"/>
</g>
<line x1="149.4" y1="549.5" x2="807.3" y2="549.5" stroke="#555" stroke-width="1.2"/>
<line x1="149.4" y1="113.5" x2="149.4" y2="549.5" stroke="#7c7ccc" stroke-width="1.15"/>
<line x1="143.0" y1="113.5" x2="155.8" y2="113.5" stroke="#7c7ccc" stroke-width="1.15"/>
<line x1="143.0" y1="200.7" x2="155.8" y2="200.7" stroke="#7c7ccc" stroke-width="1.15"/>
<line x1="143.0" y1="287.9" x2="155.8" y2="287.9" stroke="#7c7ccc" stroke-width="1.15"/>
<line x1="143.0" y1="375.1" x2="155.8" y2="375.1" stroke="#7c7ccc" stroke-width="1.15"/>
<line x1="143.0" y1="462.3" x2="155.8" y2="462.3" stroke="#7c7ccc" stroke-width="1.15"/>
<line x1="143.0" y1="549.5" x2="149.4" y2="549.5" stroke="#7c7ccc" stroke-width="1.15"/>
<line x1="802.3" y1="113.5" x2="802.3" y2="603.0" stroke="#8a8a8a" stroke-width="1.4"/>
<line x1="802.3" y1="113.5" x2="807.3" y2="113.5" stroke="#8a8a8a" stroke-width="1.2"/>
<line x1="802.3" y1="200.7" x2="807.3" y2="200.7" stroke="#8a8a8a" stroke-width="1.2"/>
<line x1="802.3" y1="287.9" x2="807.3" y2="287.9" stroke="#8a8a8a" stroke-width="1.2"/>
<line x1="802.3" y1="375.1" x2="807.3" y2="375.1" stroke="#8a8a8a" stroke-width="1.2"/>
<line x1="802.3" y1="462.3" x2="807.3" y2="462.3" stroke="#8a8a8a" stroke-width="1.2"/>
<line x1="802.3" y1="549.5" x2="807.3" y2="549.5" stroke="#8a8a8a" stroke-width="1.2"/>
<text x="127.6" y="119.9" text-anchor="end" font-size="18.2" font-weight="bold" fill="#0000f0">150,000</text>
<text x="127.6" y="207.1" text-anchor="end" font-size="18.2" font-weight="bold" fill="#0000f0">130,000</text>
<text x="127.6" y="294.3" text-anchor="end" font-size="18.2" font-weight="bold" fill="#0000f0">110,000</text>
<text x="127.6" y="381.5" text-anchor="end" font-size="18.2" font-weight="bold" fill="#0000f0">90,000</text>
<text x="127.6" y="468.7" text-anchor="end" font-size="18.2" font-weight="bold" fill="#0000f0">70,000</text>
<text x="127.6" y="555.9" text-anchor="end" font-size="18.2" font-weight="bold" fill="#0000f0">50,000</text>
<text x="814.9" y="119.1" font-size="15.8" font-weight="bold" fill="#ff6600">30%</text>
<text x="814.9" y="206.3" font-size="15.8" font-weight="bold" fill="#ff6600">20%</text>
<text x="814.9" y="293.5" font-size="15.8" font-weight="bold" fill="#ff6600">10%</text>
<text x="814.9" y="380.7" font-size="15.8" font-weight="bold" fill="#ff6600">0%</text>
<text x="814.9" y="467.9" font-size="15.8" font-weight="bold" fill="#ff6600">-10%</text>
<text x="814.9" y="555.1" font-size="15.8" font-weight="bold" fill="#ff6600">-20%</text>
<text x="163.0" y="597.3" text-anchor="middle" font-size="17" fill="#000">95</text>
<text x="190.2" y="597.3" text-anchor="middle" font-size="17" fill="#000">96</text>
<text x="217.4" y="597.3" text-anchor="middle" font-size="17" fill="#000">97</text>
<text x="244.6" y="597.3" text-anchor="middle" font-size="17" fill="#000">98</text>
<text x="271.8" y="597.3" text-anchor="middle" font-size="17" fill="#000">99</text>
<text x="299.0" y="597.3" text-anchor="middle" font-size="17" fill="#000">00</text>
<text x="326.2" y="597.3" text-anchor="middle" font-size="17" fill="#000">01</text>
<text x="353.4" y="597.3" text-anchor="middle" font-size="17" fill="#000">02</text>
<text x="380.6" y="597.3" text-anchor="middle" font-size="17" fill="#000">03</text>
<text x="407.8" y="597.3" text-anchor="middle" font-size="17" fill="#000">04</text>
<text x="435.0" y="597.3" text-anchor="middle" font-size="17" fill="#000">05</text>
<text x="462.2" y="597.3" text-anchor="middle" font-size="17" fill="#000">06</text>
<text x="489.5" y="597.3" text-anchor="middle" font-size="17" fill="#000">07</text>
<text x="516.7" y="597.3" text-anchor="middle" font-size="17" fill="#000">08</text>
<text x="543.9" y="597.3" text-anchor="middle" font-size="17" fill="#000">09</text>
<text x="571.1" y="597.3" text-anchor="middle" font-size="17" fill="#000">10</text>
<text x="598.3" y="597.3" text-anchor="middle" font-size="17" fill="#000">11</text>
<text x="625.5" y="597.3" text-anchor="middle" font-size="17" fill="#000">12</text>
<text x="652.7" y="597.3" text-anchor="middle" font-size="17" fill="#000">13</text>
<text x="679.9" y="597.3" text-anchor="middle" font-size="17" fill="#000">14</text>
<text x="707.1" y="597.3" text-anchor="middle" font-size="17" fill="#000">15</text>
<text x="734.3" y="597.3" text-anchor="middle" font-size="17" fill="#000">16</text>
<text x="761.5" y="597.3" text-anchor="middle" font-size="17" fill="#000">17</text>
<text x="788.7" y="597.3" text-anchor="middle" font-size="17" fill="#000">18</text>
<text transform="translate(30.3,319.5) rotate(-90)" text-anchor="middle" font-size="21.2" font-weight="bold" fill="#0000f0">Rolling 12 month expenditures</text>
<text transform="translate(865.0,330.4) rotate(90)" text-anchor="middle" font-size="21" font-weight="bold" fill="#ff6600">3 month y / y growth</text>
<text x="435" y="46.8" text-anchor="middle" font-size="23.9" font-weight="bold" fill="#000080">Infrastructure Expenditures 1,000,000 $ NSA</text>
<text x="435" y="76.2" text-anchor="middle" font-size="23.9" font-weight="bold" fill="#000080">Rolling 12 months and Y / Y growth rate</text>
<rect x="5.5" y="5.3" width="97.1" height="62" fill="#fff" stroke="#000" stroke-width="1"/>
<text x="54.2" y="45.2" text-anchor="middle" font-size="24" font-weight="bold" fill="#000">Fig 4</text>
<rect x="450.9" y="483.9" width="275.3" height="37.2" fill="#fff" stroke="#000" stroke-width="1.2"/>
<text x="588.2" y="510.1" text-anchor="middle" font-size="21.3" fill="#000">Through August 2017</text>
<path d="M753.7 42.7 A19.5 17.25 0 1 1 753.7 62.9 A16 13.6 0 1 0 753.7 42.7 Z" fill="url(#lg)"/>
<rect x="735" y="47.7" width="140" height="10.2" fill="#fff"/>
<text x="737.5" y="56.8" font-size="10.7" font-weight="bold" fill="#17377f" stroke="#17377f" stroke-width="0.3" textLength="37.1" lengthAdjust="spacingAndGlyphs">STEEL</text>
<text x="779.4" y="56.8" font-size="10.7" font-weight="bold" fill="#2a55a5" textLength="45.5" lengthAdjust="spacingAndGlyphs">MARKET</text>
<text x="830.2" y="56.8" font-size="10.7" fill="#4f6fb5" textLength="41.4" lengthAdjust="spacingAndGlyphs">UPDATE</text>
</svg></body></html>
